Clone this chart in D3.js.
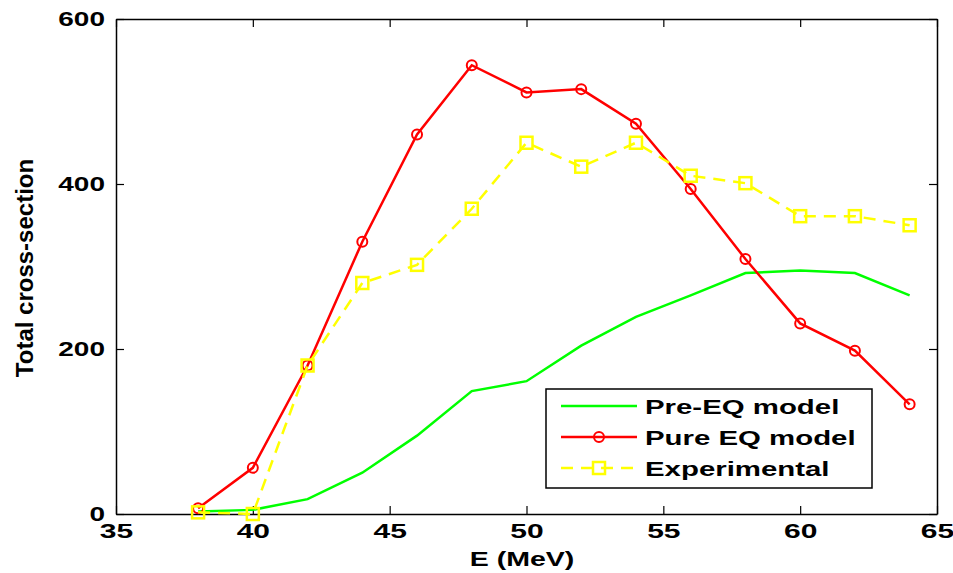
<!DOCTYPE html>
<html lang="en">
<head>
<meta charset="UTF-8">
<title>Total cross-section vs E</title>
<script src="https://d3js.org/d3.v7.min.js"></script>
<style>
    body { margin: 0; background: #fff; }
    text { font-family: "Liberation Sans", Arial, sans-serif; font-weight: bold; fill: #000; }
</style>
</head>
<body>
<svg id="chart" width="953" height="573"></svg>
<script>
    // data
    const energy = [38, 40, 42, 44, 46, 48, 50, 52, 54, 56, 58, 60, 62, 64];
    const preEQ = [3, 5, 18, 50, 95, 149, 161, 204, 239, 265, 292, 295, 292, 265];
    const pureEQ = [7, 56, 180, 330, 460, 544, 511, 515, 473, 394, 309, 231, 198, 133];
    const experimental = [2, 0, 180, 280, 302, 370, 450, 421, 450, 410, 401, 361, 361, 350];
    const xTicks = [35, 40, 45, 50, 55, 60, 65];
    const yTicks = [0, 200, 400, 600];

    const svg = d3.select("#chart");
    const margin = { left: 116, right: 937, top: 19, bottom: 514 };

    const x = d3.scaleLinear().domain([35, 65]).range([margin.left, margin.right]);
    const y = d3.scaleLinear().domain([0, 600]).range([margin.bottom, margin.top]);

    // the source figure has wide, stretched lettering
    function stretch(sel, sx) {
        sel.each(function () {
            const t = d3.select(this);
            const tx = +t.attr("x") || 0, ty = +t.attr("y") || 0;
            t.attr("x", 0).attr("y", 0)
                .attr("transform", `translate(${tx},${ty}) scale(${sx},1)`);
        });
    }

    // box + inward ticks (all four sides)
    const tickLen = 8;
    const xAxis = svg.append("g").attr("transform", `translate(0,${margin.bottom})`)
        .call(d3.axisBottom(x).tickValues(xTicks).tickSizeInner(-tickLen).tickSizeOuter(0).tickPadding(10));
    svg.append("g").attr("transform", `translate(0,${margin.top})`)
        .call(d3.axisTop(x).tickValues(xTicks).tickSizeInner(-tickLen).tickSizeOuter(0).tickFormat(""));
    const yAxis = svg.append("g").attr("transform", `translate(${margin.left},0)`)
        .call(d3.axisLeft(y).tickValues(yTicks).tickSizeInner(-tickLen).tickSizeOuter(0).tickPadding(11));
    svg.append("g").attr("transform", `translate(${margin.right},0)`)
        .call(d3.axisRight(y).tickValues(yTicks).tickSizeInner(-tickLen).tickSizeOuter(0).tickFormat(""));

    svg.selectAll(".domain").attr("stroke", "#000").attr("stroke-width", 1.5);
    svg.selectAll(".tick line").attr("stroke", "#000").attr("stroke-width", 1.2);
    svg.selectAll(".tick text").style("font-size", "20px").attr("fill", "#000");
    stretch(xAxis.selectAll(".tick text"), 1.5);
    stretch(yAxis.selectAll(".tick text"), 1.4);

    // axis labels
    svg.append("text")
        .attr("x", 522)
        .attr("y", 566)
        .attr("text-anchor", "middle")
        .style("font-size", "21px")
        .text("E (MeV)")
        .call(stretch, 1.36);
    svg.append("text")
        .attr("transform", `translate(33,268) rotate(-90)`)
        .attr("text-anchor", "middle")
        .style("font-size", "24px")
        .text("Total cross-section");

    const line = d3.line().x((d, i) => x(energy[i])).y(d => y(d));

    // Pre-EQ model
    svg.append("path").datum(preEQ)
        .attr("d", line).attr("fill", "none")
        .attr("stroke", "#00ff00").attr("stroke-width", 2.5);

    // Pure EQ model
    svg.append("path").datum(pureEQ)
        .attr("d", line).attr("fill", "none")
        .attr("stroke", "#ff0000").attr("stroke-width", 2.5);
    svg.selectAll(".circ").data(pureEQ).enter().append("circle")
        .attr("cx", (d, i) => x(energy[i])).attr("cy", d => y(d))
        .attr("r", 5).attr("fill", "none")
        .attr("stroke", "#ff0000").attr("stroke-width", 2);

    // Experimental
    svg.append("path").datum(experimental)
        .attr("d", line).attr("fill", "none")
        .attr("stroke", "#ffff00").attr("stroke-width", 2.5)
        .attr("stroke-dasharray", "12,8");
    svg.selectAll(".sq").data(experimental).enter().append("rect")
        .attr("x", (d, i) => x(energy[i]) - 6).attr("y", d => y(d) - 6)
        .attr("width", 12).attr("height", 12).attr("fill", "none")
        .attr("stroke", "#ffff00").attr("stroke-width", 2.5);

    // legend
    const legend = svg.append("g");
    legend.append("rect")
        .attr("x", 546).attr("y", 389).attr("width", 326).attr("height", 99)
        .attr("fill", "#fff").attr("stroke", "#000").attr("stroke-width", 1.5);
    const entries = [
        { name: "Pre-EQ model", color: "#00ff00", dash: null, marker: null },
        { name: "Pure EQ model", color: "#ff0000", dash: null, marker: "circle" },
        { name: "Experimental", color: "#ffff00", dash: "12,8", marker: "square" }
    ];
    entries.forEach((e, i) => {
        const ly = 406 + i * 31;
        legend.append("line")
            .attr("x1", 561).attr("x2", 637).attr("y1", ly).attr("y2", ly)
            .attr("stroke", e.color).attr("stroke-width", 2.5)
            .attr("stroke-dasharray", e.dash);
        if (e.marker === "circle") {
            legend.append("circle").attr("cx", 599).attr("cy", ly).attr("r", 5)
                .attr("fill", "none").attr("stroke", e.color).attr("stroke-width", 2);
        } else if (e.marker === "square") {
            legend.append("rect").attr("x", 593).attr("y", ly - 6).attr("width", 12).attr("height", 12)
                .attr("fill", "none").attr("stroke", e.color).attr("stroke-width", 2.5);
        }
        legend.append("text")
            .attr("x", 645).attr("y", ly + 8)
            .style("font-size", "21px")
            .text(e.name)
            .call(stretch, 1.4);
    });
</script>
</body>
</html>
